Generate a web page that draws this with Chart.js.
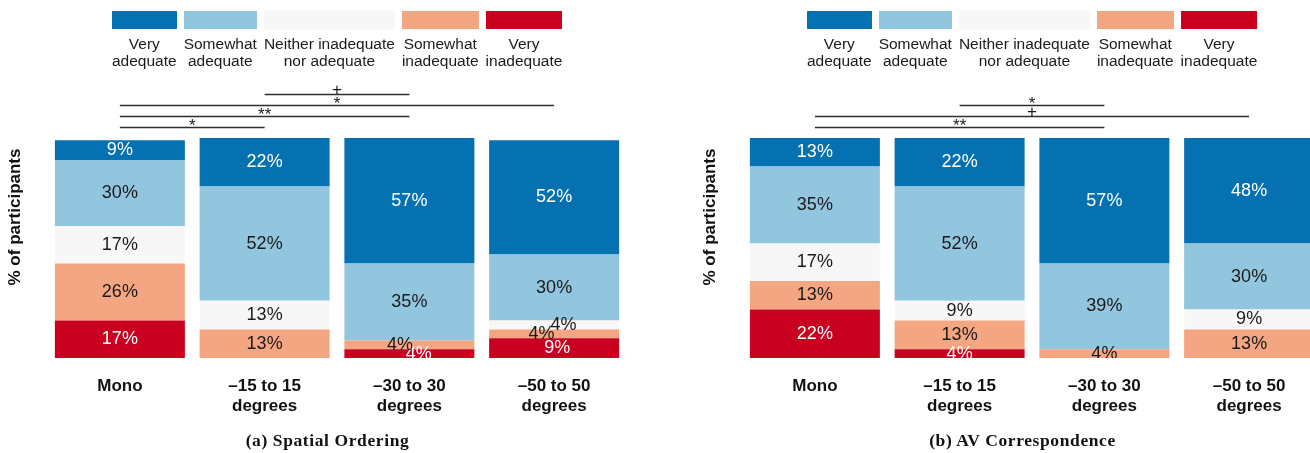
<!DOCTYPE html>
<html>
<head>
<meta charset="utf-8">
<title>Ratings by condition</title>
<script src="https://cdn.jsdelivr.net/npm/chart.js@4.4.1/dist/chart.umd.min.js"></script>
<style>
  html, body { margin: 0; padding: 0; background: #ffffff; }
  body { width: 1310px; height: 453px; overflow: hidden; position: relative;
         font-family: "Liberation Sans", Arial, sans-serif; }
  .panel { position: absolute; top: 0; width: 655px; height: 453px; }
  .panel canvas { position: absolute; left: 0; top: 0; }
  .legend { position: absolute; left: 112px; top: 11px; display: flex; gap: 7px; }
  .item { display: flex; flex-direction: column; align-items: stretch; }
  .swatch { height: 18px; }
  .item span { display: block; text-align: center; font-size: 15.5px; line-height: 17px;
               margin-top: 6px; color: #1a1a1a; white-space: pre; }
  .caption { position: absolute; top: 430px; left: 0; width: 655px; text-align: center;
             font-family: "Liberation Serif", serif; font-weight: bold; font-size: 17.5px;
             line-height: 20px; letter-spacing: 0.6px; color: #111; }
</style>
</head>
<body>
<div class="panel" id="panelA" style="left:0px">
  <canvas id="chartA" width="655" height="453"></canvas>
  <div class="legend" id="legendA"></div>
  <div class="caption">(a) Spatial Ordering</div>
</div>
<div class="panel" id="panelB" style="left:695px">
  <canvas id="chartB" width="655" height="453"></canvas>
  <div class="legend" id="legendB"></div>
  <div class="caption">(b) AV Correspondence</div>
</div>

<script>
// Conditions along the x axis
const conditionLabels = ['Mono', ['–15 to 15', 'degrees'], ['–30 to 30', 'degrees'], ['–50 to 50', 'degrees']];

// Response levels, from most to least favourable
const levelNames = ['Very\nadequate', 'Somewhat\nadequate', 'Neither inadequate\nnor adequate', 'Somewhat\ninadequate', 'Very\ninadequate'];

// Spatial ordering: % of participants per level, one value per condition
const spatialVeryAdequate       = [9, 22, 57, 52];
const spatialSomewhatAdequate   = [30, 52, 35, 30];
const spatialNeither            = [17, 13, 0, 4];
const spatialSomewhatInadequate = [26, 13, 4, 4];
const spatialVeryInadequate     = [17, 0, 4, 9];

// AV correspondence: % of participants per level, one value per condition
const avVeryAdequate       = [13, 22, 57, 48];
const avSomewhatAdequate   = [35, 52, 39, 30];
const avNeither            = [17, 9, 0, 9];
const avSomewhatInadequate = [13, 13, 4, 13];
const avVeryInadequate     = [22, 4, 0, 0];

// Pairwise significance: [condition index, condition index, marker], listed from lowest bracket up
const spatialTests = [[0, 1, '*'], [0, 2, '**'], [0, 3, '*'], [1, 2, '+']];
const avTests      = [[0, 2, '**'], [0, 3, '+'], [1, 2, '*']];

// Styling per level
const levelColors     = ['#0571b0', '#92c5de', '#f7f7f7', '#f4a582', '#ca0020'];
const levelTextColors = ['#ffffff', '#1a1a1a', '#1a1a1a', '#1a1a1a', '#ffffff'];

function buildLegend(id) {
  const box = document.getElementById(id);
  levelNames.forEach((name, i) => {
    const item = document.createElement('div');
    item.className = 'item';
    const sw = document.createElement('div');
    sw.className = 'swatch';
    sw.style.background = levelColors[i];
    const txt = document.createElement('span');
    txt.textContent = name;
    item.appendChild(sw);
    item.appendChild(txt);
    box.appendChild(item);
  });
}

// Segment value labels, brackets and the y-axis title
const annotations = {
  id: 'annotations',
  afterDatasetsDraw(chart) {
    const ctx = chart.ctx;
    const ca = chart.chartArea;
    ctx.save();
    ctx.beginPath();
    ctx.rect(ca.left, ca.top, ca.right - ca.left, ca.bottom - ca.top);
    ctx.clip();
    ctx.font = '18px "Liberation Sans", Arial, sans-serif';
    ctx.textAlign = 'center';
    ctx.textBaseline = 'middle';
    const H = 17, k = 1.15;
    chart.data.labels.forEach((_, j) => {
      const items = [];
      chart.data.datasets.forEach((ds, di) => {
        const v = ds.data[j];
        if (!v) return;
        const el = chart.getDatasetMeta(di).data[j];
        items.push({ x: el.x, y: (el.y + el.base) / 2, text: v + '%', color: ds.textColor, dx: 0 });
      });
      // push crowded neighbouring labels sideways, alternating direction
      const ov = [];
      for (let i = 0; i < items.length - 1; i++) {
        ov.push(Math.max(0, H - Math.abs(items[i].y - items[i + 1].y)));
      }
      let sign = 1;
      items.forEach((it, i) => {
        const below = i > 0 ? ov[i - 1] : 0;
        const above = i < items.length - 1 ? ov[i] : 0;
        sign = below === 0 ? 1 : -sign;
        it.dx = sign * k * (below + above);
      });
      items.forEach(it => {
        ctx.fillStyle = it.color;
        ctx.fillText(it.text, it.x + it.dx, it.y);
      });
    });
    ctx.restore();
  },
  afterDraw(chart, args, opts) {
    const ctx = chart.ctx;
    const ca = chart.chartArea;
    const xs = chart.scales.x;
    ctx.save();
    // significance brackets
    (opts.tests || []).forEach((t, i) => {
      const y = ca.top - 10.5 - 11 * i;
      const x1 = xs.getPixelForValue(t[0]);
      const x2 = xs.getPixelForValue(t[1]);
      ctx.strokeStyle = '#2e2e2e';
      ctx.lineWidth = 1.5;
      ctx.beginPath();
      ctx.moveTo(x1, y);
      ctx.lineTo(x2, y);
      ctx.stroke();
      ctx.font = '17px "Liberation Sans", Arial, sans-serif';
      ctx.textAlign = 'center';
      ctx.textBaseline = 'alphabetic';
      const m = ctx.measureText(t[2]);
      const c = y - 5.5;
      const yb = c + (m.actualBoundingBoxAscent - m.actualBoundingBoxDescent) / 2;
      ctx.fillStyle = '#1a1a1a';
      ctx.fillText(t[2], (x1 + x2) / 2, yb);
    });
    // y-axis title
    ctx.translate(15, 217);
    ctx.rotate(-Math.PI / 2);
    ctx.font = 'bold 17px "Liberation Sans", Arial, sans-serif';
    ctx.textAlign = 'center';
    ctx.textBaseline = 'middle';
    ctx.fillStyle = '#111111';
    ctx.fillText('% of participants', 0, 0);
    ctx.restore();
  }
};

function makeChart(canvasId, series, tests) {
  // stack from the bottom: very inadequate first, very adequate last
  const datasets = [];
  for (let i = series.length - 1; i >= 0; i--) {
    datasets.push({
      label: levelNames[i].replace('\n', ' '),
      data: series[i],
      backgroundColor: levelColors[i],
      textColor: levelTextColors[i],
      borderWidth: 0,
      barPercentage: 0.898,
      categoryPercentage: 1.0
    });
  }
  return new Chart(document.getElementById(canvasId), {
    type: 'bar',
    data: { labels: conditionLabels, datasets },
    plugins: [annotations],
    options: {
      responsive: false,
      animation: false,
      layout: { padding: { top: 138, left: 47.5, right: 28.5, bottom: 35 } },
      plugins: {
        legend: { display: false },
        tooltip: { enabled: false },
        annotations: { tests }
      },
      scales: {
        x: {
          stacked: true,
          grid: { display: false, drawTicks: false },
          border: { display: false },
          ticks: {
            padding: 18,
            color: '#111111',
            font: { family: '"Liberation Sans", Arial, sans-serif', size: 17, weight: 'bold', lineHeight: 1.2 }
          },
          afterFit(scale) { scale.height = 60; }
        },
        y: { stacked: true, display: false, min: 0, max: 100 }
      }
    }
  });
}

buildLegend('legendA');
buildLegend('legendB');
makeChart('chartA',
  [spatialVeryAdequate, spatialSomewhatAdequate, spatialNeither, spatialSomewhatInadequate, spatialVeryInadequate],
  spatialTests);
makeChart('chartB',
  [avVeryAdequate, avSomewhatAdequate, avNeither, avSomewhatInadequate, avVeryInadequate],
  avTests);
</script>
</body>
</html>
